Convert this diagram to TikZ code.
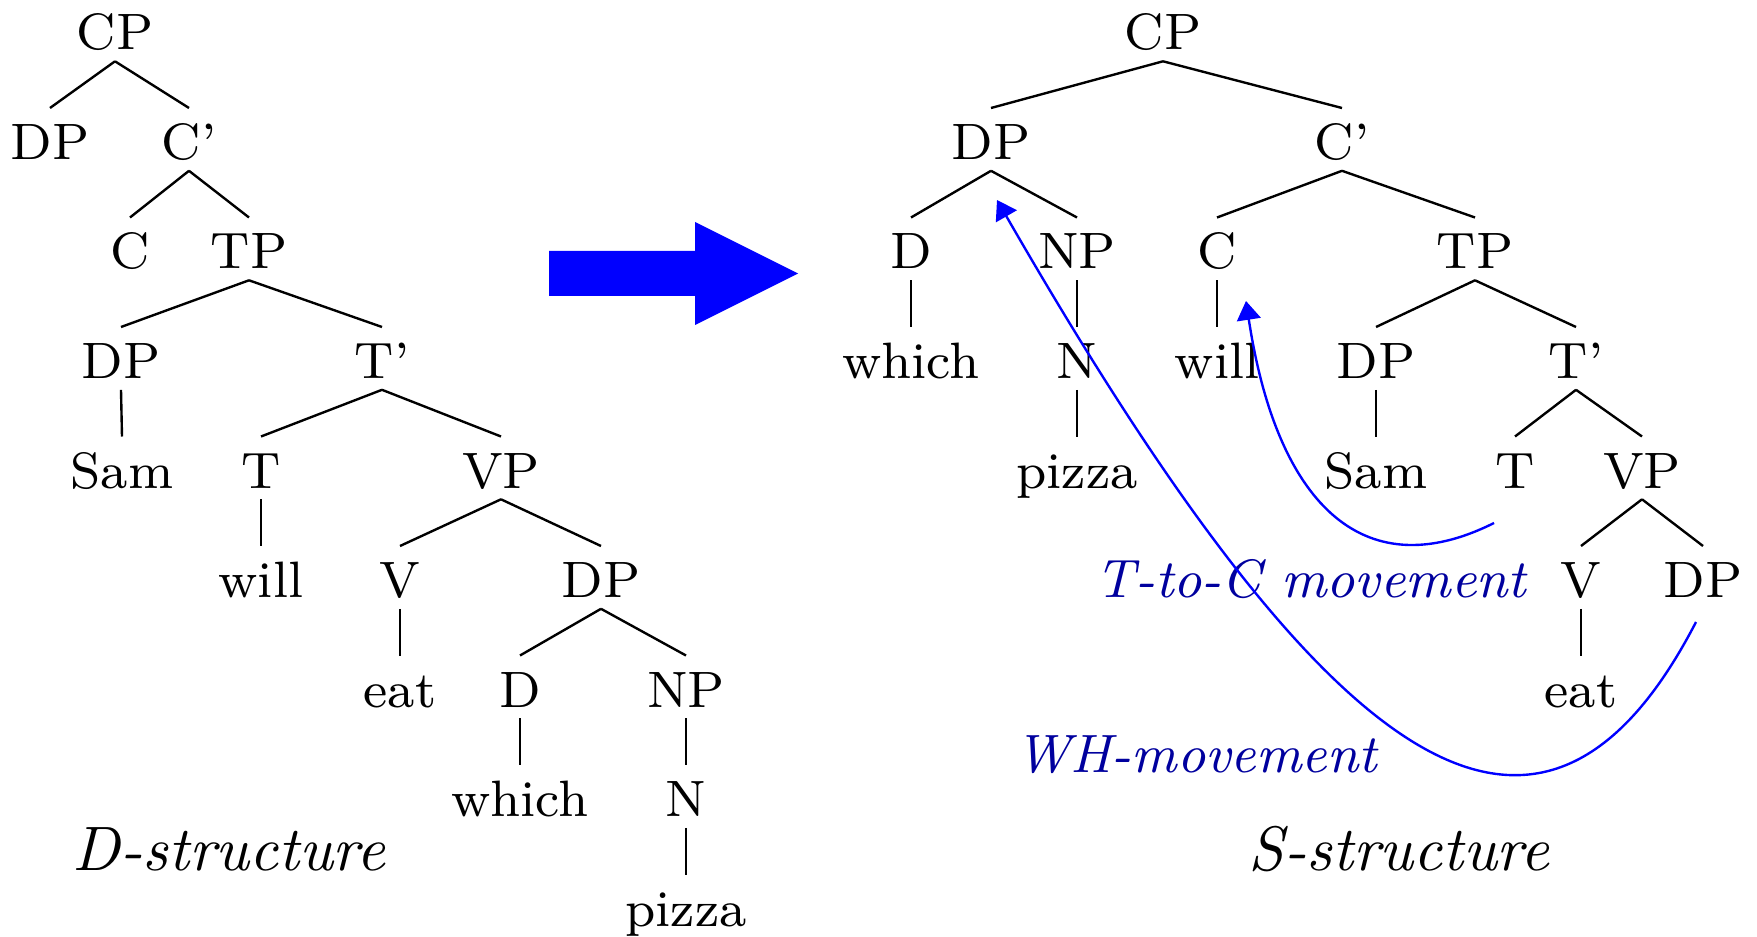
\documentclass[tikz,border=0pt]{standalone}
\usetikzlibrary{arrows.meta}
\definecolor{lblue}{rgb}{0,0,0.62}
\begin{document}
\begin{tikzpicture}[x=0.15924pt,y=-0.15924pt,
  tn/.style={font=\fontsize{8.15}{9.8}\selectfont, anchor=base, inner xsep=0pt, inner ysep=1.6pt, text height=6.4pt, text depth=0pt},
  branch/.style={line width=0.38pt},
  capt/.style={font=\fontsize{10}{12}\selectfont\itshape, anchor=base},
  mvlabel/.style={font=\fontsize{8.6}{10}\selectfont\itshape, anchor=base, text=lblue},
  mv/.style={blue, line width=0.38pt, -{Triangle[length=3pt,width=3.8pt]}}
]
\useasboundingbox (0,0) rectangle (1757,937);

% ---------- left tree (D-structure) ----------
\node[tn] (lCP) at (115,50) {CP};
\node[tn] (lDPa) at (50,159.5) {DP};
\node[tn] (lCb) at (189,159.5) {C'};
\node[tn] (lC) at (130,269) {C};
\node[tn] (lTP) at (249,269) {TP};
\node[tn] (lDPb) at (121,378.5) {DP};
\node[tn] (lTb) at (382,378.5) {T'};
\node[tn] (lSam) at (122,488) {Sam};
\node[tn] (lT) at (261,488) {T};
\node[tn] (lVP) at (501,488) {VP};
\node[tn] (lwill) at (261,597.5) {will};
\node[tn] (lV) at (400,597.5) {V};
\node[tn] (lDPc) at (601,597.5) {DP};
\node[tn] (leat) at (400,707) {eat};
\node[tn] (lD) at (520,707) {D};
\node[tn] (lNP) at (686,707) {NP};
\node[tn] (lwhich) at (520,816.5) {which};
\node[tn] (lN) at (686,816.5) {N};
\node[tn] (lpizza) at (686,926) {pizza};

\foreach \p/\c in {lCP/lDPa, lCP/lCb, lCb/lC, lCb/lTP, lTP/lDPb, lTP/lTb,
  lDPb/lSam, lTb/lT, lTb/lVP, lT/lwill, lVP/lV, lVP/lDPc, lV/leat,
  lDPc/lD, lDPc/lNP, lD/lwhich, lNP/lN, lN/lpizza}
  \draw[branch] (\p.south) -- (\c.north);

\node[capt] (lcap) at (229,870) {D-structure};

% ---------- big arrow ----------
\fill[blue] (549,251) -- (695,251) -- (695,222) -- (798,273.5) -- (695,325) -- (695,296) -- (549,296) -- cycle;

% ---------- right tree (S-structure) ----------
\node[tn] (rCP) at (1163,50) {CP};
\node[tn] (rDPa) at (991,159.5) {DP};
\node[tn] (rCb) at (1342,159.5) {C'};
\node[tn] (rD) at (911,269) {D};
\node[tn] (rNP) at (1077,269) {NP};
\node[tn] (rC) at (1217,269) {C};
\node[tn] (rTP) at (1475,269) {TP};
\node[tn] (rwhich) at (911,378.5) {which};
\node[tn] (rN) at (1077,378.5) {N};
\node[tn] (rwill) at (1217,378.5) {will};
\node[tn] (rDPb) at (1376,378.5) {DP};
\node[tn] (rTb) at (1576,378.5) {T'};
\node[tn] (rpizza) at (1077,488) {pizza};
\node[tn] (rSam) at (1376,488) {Sam};
\node[tn] (rT) at (1515,488) {T};
\node[tn] (rVP) at (1642,488) {VP};
\node[tn] (rV) at (1581,597.5) {V};
\node[tn] (rDPc) at (1703,597.5) {DP};
\node[tn] (reat) at (1581,707) {eat};

\foreach \p/\c in {rCP/rDPa, rCP/rCb, rDPa/rD, rDPa/rNP, rCb/rC, rCb/rTP,
  rD/rwhich, rNP/rN, rN/rpizza, rC/rwill, rTP/rDPb, rTP/rTb,
  rDPb/rSam, rTb/rT, rTb/rVP, rVP/rV, rVP/rDPc, rV/reat}
  \draw[branch] (\p.south) -- (\c.north);

\node[capt] (rcap) at (1399,870) {S-structure};

% ---------- movement arrows ----------
\node[mvlabel] (tclab) at (1311,597.5) {T-to-C movement};
\node[mvlabel] (whlab) at (1196,772) {WH-movement};

\coordinate (tcS) at (1494,523);
\coordinate (tcA) at (1360,590);
\coordinate (tcB) at (1276,499);
\coordinate (tcE) at (1246,301);
\draw[mv] (tcS) .. controls (tcA) and (tcB) .. (tcE);

\coordinate (whS) at (1696,622);
\coordinate (whA) at (1537,929);
\coordinate (whB) at (1322,765);
\coordinate (whE) at (997,200);
\draw[mv] (whS) .. controls (whA) and (whB) .. (whE);
\end{tikzpicture}
\end{document}
